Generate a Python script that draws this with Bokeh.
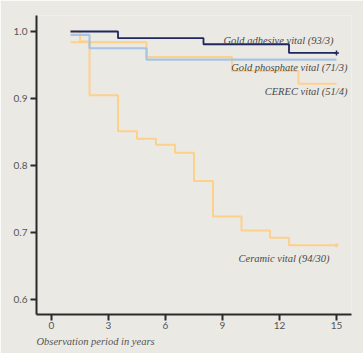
from bokeh.plotting import figure
from bokeh.models import Range1d, FixedTicker, Label, Title
from bokeh.embed import file_html
from bokeh.resources import INLINE

# Data (Kaplan-Meier step curves: times in years, survival values)
gold_adh_t = [1, 3.5, 8, 12.5, 15]
gold_adh_v = [1.0, 0.990, 0.981, 0.968, 0.968]

gold_pho_t = [1, 2, 5, 15]
gold_pho_v = [0.995, 0.975, 0.958, 0.958]

cerec_t = [1, 5, 9.5, 13, 15]
cerec_v = [0.984, 0.962, 0.941, 0.922, 0.922]

ceramic_t = [1, 1.5, 2, 3.5, 4.5, 5.5, 6.5, 7.5, 8.5, 10, 11.5, 12.5, 15]
ceramic_v = [1.0, 0.985, 0.905, 0.851, 0.840, 0.831, 0.819, 0.777, 0.724, 0.703, 0.692, 0.681, 0.681]

x_ticks = [0, 3, 6, 9, 12, 15]
y_ticks = [0.6, 0.7, 0.8, 0.9, 1.0]
y_tick_labels = ["0.6", "0.7", "0.8", "0.9", "1.0"]

labels = ["Gold adhesive vital (93/3)", "Gold phosphate vital (71/3)",
          "CEREC vital (51/4)", "Ceramic vital (94/30)"]
x_label = "Observation period in years"

BG = "#ebe9e4"
NAVY = "#1f275e"
BLUE = "#a9c4e0"
ORANGE = "#fdd08c"
TXT = "#4a4a4a"

p = figure(width=363, height=353, output_backend="svg", toolbar_location=None,
           x_range=Range1d(-0.79, 15.79), y_range=Range1d(0.5776, 1.0239),
           min_border_left=36, min_border_right=12, min_border_top=15, min_border_bottom=39)
p.background_fill_color = BG
p.border_fill_color = BG
p.outline_line_color = None
p.grid.visible = False

for ax in (p.xaxis[0], p.yaxis[0]):
    ax.axis_line_width = 2
    ax.axis_line_color = "#2a2a2a"
    ax.major_tick_line_width = 2
    ax.major_tick_line_color = "#2a2a2a"
    ax.major_tick_out = 6
    ax.major_tick_in = 0
    ax.minor_tick_line_color = None
    ax.major_label_text_font = "Lato"
    ax.major_label_text_font_size = "10px"
    ax.major_label_text_color = "#555555"

p.xaxis.ticker = FixedTicker(ticks=x_ticks)
p.yaxis.ticker = FixedTicker(ticks=y_ticks)
p.yaxis.major_label_overrides = {t: l for t, l in zip(y_ticks, y_tick_labels)}
p.xaxis.major_label_standoff = 1
p.yaxis.major_label_standoff = 3

p.step(ceramic_t, ceramic_v, mode="after", line_color=ORANGE, line_width=2)
p.step(cerec_t, cerec_v, mode="after", line_color=ORANGE, line_width=2)
p.step(gold_pho_t, gold_pho_v, mode="after", line_color=BLUE, line_width=2.2)
p.step(gold_adh_t, gold_adh_v, mode="after", line_color=NAVY, line_width=1.8)

p.scatter([gold_adh_t[-1]], [gold_adh_v[-1]], marker="cross", size=5, line_color=NAVY, line_width=1.5)
p.scatter([ceramic_t[-1]], [ceramic_v[-1]], marker="circle", size=3, fill_color=ORANGE, line_color=ORANGE)

lab_pos = [(14.84, 0.9866), (15.58, 0.947), (15.58, 0.911), (14.63, 0.661)]
for txt, (lx, ly) in zip(labels, lab_pos):
    p.add_layout(Label(x=lx, y=ly, text=txt, text_align="right", text_baseline="middle",
                       text_font="Liberation Serif", text_font_style="italic",
                       text_font_size="10.5px", text_color=TXT))

p.add_layout(Title(text=x_label, align="left", text_font="Liberation Serif",
                   text_font_style="italic", text_font_size="10.5px",
                   text_color="#555555", standoff=4), "below")

open("out.html", "w").write(file_html(p, INLINE))
